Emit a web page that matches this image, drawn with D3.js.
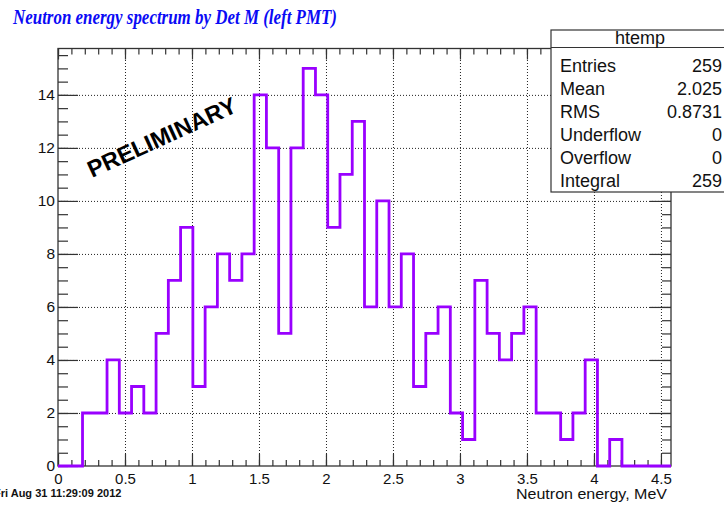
<!DOCTYPE html>
<html>
<head>
<meta charset="utf-8">
<script src="https://cdn.jsdelivr.net/npm/d3@7"></script>
<style>
  body { margin: 0; background: #fff; }
  svg { display: block; }
  .axis path { display: none; }
  .axis line { stroke: #333; stroke-width: 1.2px; }
  .grid line { stroke: #222; stroke-width: 1px; stroke-dasharray: 1,2; }
  .grid path { display: none; }
  text { font-family: "Liberation Sans", Arial, sans-serif; }
</style>
</head>
<body>
<div id="chart"></div>
<script>
// histogram htemp, 50 bins
var binLow = 0;
var binWidth = 0.0915;
var binCounts = [0,0,2,2,4,2,3,2,5,7, 9,3,6,8,7,8,14,12,5,12,
                 15,14,9,11,13,6,10,6,8,3, 5,6,2,1,7,5,4,5,6,2,
                 2,1,2,4,0,1,0,0,0,0];

var xDomain = [0, 4.575];
var yDomain = [0, 15.75];
var xTicks = [0, 0.5, 1, 1.5, 2, 2.5, 3, 3.5, 4, 4.5];
var xTickLabels = ["0", "0.5", "1", "1.5", "2", "2.5", "3", "3.5", "4", "4.5"];
var yTicks = [0, 2, 4, 6, 8, 10, 12, 14];
var yTickLabels = ["0", "2", "4", "6", "8", "10", "12", "14"];

var statsTitle = "htemp";
var statsLabels = ["Entries", "Mean", "RMS", "Underflow", "Overflow", "Integral"];
var statsValues = ["259", "2.025", "0.8731", "0", "0", "259"];

var width = 724, height = 516;
var frame = {left: 58, right: 671, top: 48.5, bottom: 466};

var svg = d3.select("#chart").append("svg")
    .attr("width", width)
    .attr("height", height);

svg.append("rect").attr("width", width).attr("height", height).attr("fill", "#fff");

var x = d3.scaleLinear().domain(xDomain).range([frame.left, frame.right]);
var y = d3.scaleLinear().domain(yDomain).range([frame.bottom, frame.top]);

var xMinor = d3.range(0, 45.5).map(function(i){ return i / 10; });
var yMinor = d3.range(0, 31.5).map(function(i){ return i / 2; });

// grid
svg.append("g")
    .attr("class", "grid")
    .attr("transform", "translate(0," + frame.bottom + ")")
    .call(d3.axisBottom(x).tickValues(xTicks.slice(1)).tickSize(-(frame.bottom - frame.top)).tickFormat(""));
svg.append("g")
    .attr("class", "grid")
    .attr("transform", "translate(" + frame.left + ",0)")
    .call(d3.axisLeft(y).tickValues(yTicks.slice(1)).tickSize(-(frame.right - frame.left)).tickFormat(""));

// frame
svg.append("rect")
    .attr("x", frame.left).attr("y", frame.top)
    .attr("width", frame.right - frame.left).attr("height", frame.bottom - frame.top)
    .attr("fill", "none").attr("stroke", "#333").attr("stroke-width", 1.3);

// bottom axis
svg.append("g").attr("class", "axis")
    .attr("transform", "translate(0," + frame.bottom + ")")
    .call(d3.axisBottom(x).tickValues(xMinor).tickSize(-6).tickFormat(""));
var xAxis = svg.append("g").attr("class", "axis")
    .attr("transform", "translate(0," + frame.bottom + ")")
    .call(d3.axisBottom(x).tickValues(xTicks).tickSize(-12).tickPadding(7)
        .tickFormat(function(d, i){ return xTickLabels[i]; }));
xAxis.selectAll("text").attr("fill", "#111").style("font-size", "15px");

// top axis
svg.append("g").attr("class", "axis")
    .attr("transform", "translate(0," + frame.top + ")")
    .call(d3.axisTop(x).tickValues(xMinor).tickSize(-6).tickFormat(""));
svg.append("g").attr("class", "axis")
    .attr("transform", "translate(0," + frame.top + ")")
    .call(d3.axisTop(x).tickValues(xTicks).tickSize(-11).tickFormat(""));

// left axis
svg.append("g").attr("class", "axis")
    .attr("transform", "translate(" + frame.left + ",0)")
    .call(d3.axisLeft(y).tickValues(yMinor).tickSize(-10).tickFormat(""));
var yAxis = svg.append("g").attr("class", "axis")
    .attr("transform", "translate(" + frame.left + ",0)")
    .call(d3.axisLeft(y).tickValues(yTicks).tickSize(-20).tickPadding(3)
        .tickFormat(function(d, i){ return yTickLabels[i]; }));
yAxis.selectAll("text").attr("fill", "#111").style("font-size", "15.5px");

// right axis
svg.append("g").attr("class", "axis")
    .attr("transform", "translate(" + frame.right + ",0)")
    .call(d3.axisRight(y).tickValues(yMinor).tickSize(-9).tickFormat(""));
svg.append("g").attr("class", "axis")
    .attr("transform", "translate(" + frame.right + ",0)")
    .call(d3.axisRight(y).tickValues(yTicks).tickSize(-21).tickFormat(""));

// histogram outline
var pts = binCounts.map(function(c, i){ return [binLow + i * binWidth, c]; });
pts.push([binLow + binCounts.length * binWidth, binCounts[binCounts.length - 1]]);
var line = d3.line()
    .x(function(d){ return x(d[0]); })
    .y(function(d){ return y(d[1]); })
    .curve(d3.curveStepAfter);
svg.append("path")
    .datum(pts)
    .attr("d", line)
    .attr("fill", "none")
    .attr("stroke", "#9900ff")
    .attr("stroke-width", 2.8);

// PRELIMINARY
svg.append("text")
    .attr("transform", "translate(92,178) rotate(-24.5)")
    .style("font-size", "23.5px")
    .style("font-weight", "bold")
    .attr("fill", "#000")
    .text("PRELIMINARY");

// axis title
svg.append("text")
    .attr("x", 667).attr("y", 499)
    .attr("text-anchor", "end")
    .style("font-size", "14.5px")
    .attr("fill", "#111")
    .attr("textLength", 151)
    .attr("lengthAdjust", "spacingAndGlyphs")
    .text("Neutron energy, MeV");

// title
svg.append("text")
    .attr("x", 13).attr("y", 24)
    .style("font-family", "'Liberation Serif', 'Times New Roman', serif")
    .style("font-weight", "bold")
    .style("font-style", "italic")
    .style("font-size", "21px")
    .attr("fill", "#0a0af5")
    .attr("textLength", 324)
    .attr("lengthAdjust", "spacingAndGlyphs")
    .text("Neutron energy spectrum by Det M (left PMT)");

// date stamp
svg.append("text")
    .attr("x", -6).attr("y", 497)
    .style("font-size", "11px")
    .style("font-weight", "bold")
    .attr("fill", "#111")
    .text("Fri Aug 31 11:29:09 2012");

// stats box
var stats = svg.append("g");
stats.append("rect")
    .attr("x", 551).attr("y", 30).attr("width", 190).attr("height", 162)
    .attr("fill", "#fff").attr("stroke", "#333").attr("stroke-width", 1.2);
stats.append("line")
    .attr("x1", 551).attr("x2", 741).attr("y1", 47.5).attr("y2", 47.5)
    .attr("stroke", "#333").attr("stroke-width", 1.2);
stats.append("text")
    .attr("x", 640).attr("y", 44)
    .attr("text-anchor", "middle")
    .style("font-size", "18px")
    .attr("fill", "#111")
    .text(statsTitle);
var rowY = d3.scalePoint().domain(statsLabels).range([72, 187]);
stats.selectAll(".slabel")
    .data(statsLabels).enter().append("text")
    .attr("class", "slabel")
    .attr("x", 560).attr("y", function(d){ return rowY(d); })
    .style("font-size", "18px")
    .attr("fill", "#111")
    .text(function(d){ return d; });
stats.selectAll(".svalue")
    .data(statsValues).enter().append("text")
    .attr("class", "svalue")
    .attr("x", 722).attr("y", function(d, i){ return rowY(statsLabels[i]); })
    .attr("text-anchor", "end")
    .style("font-size", "18px")
    .attr("fill", "#111")
    .text(function(d){ return d; });
</script>
</body>
</html>
